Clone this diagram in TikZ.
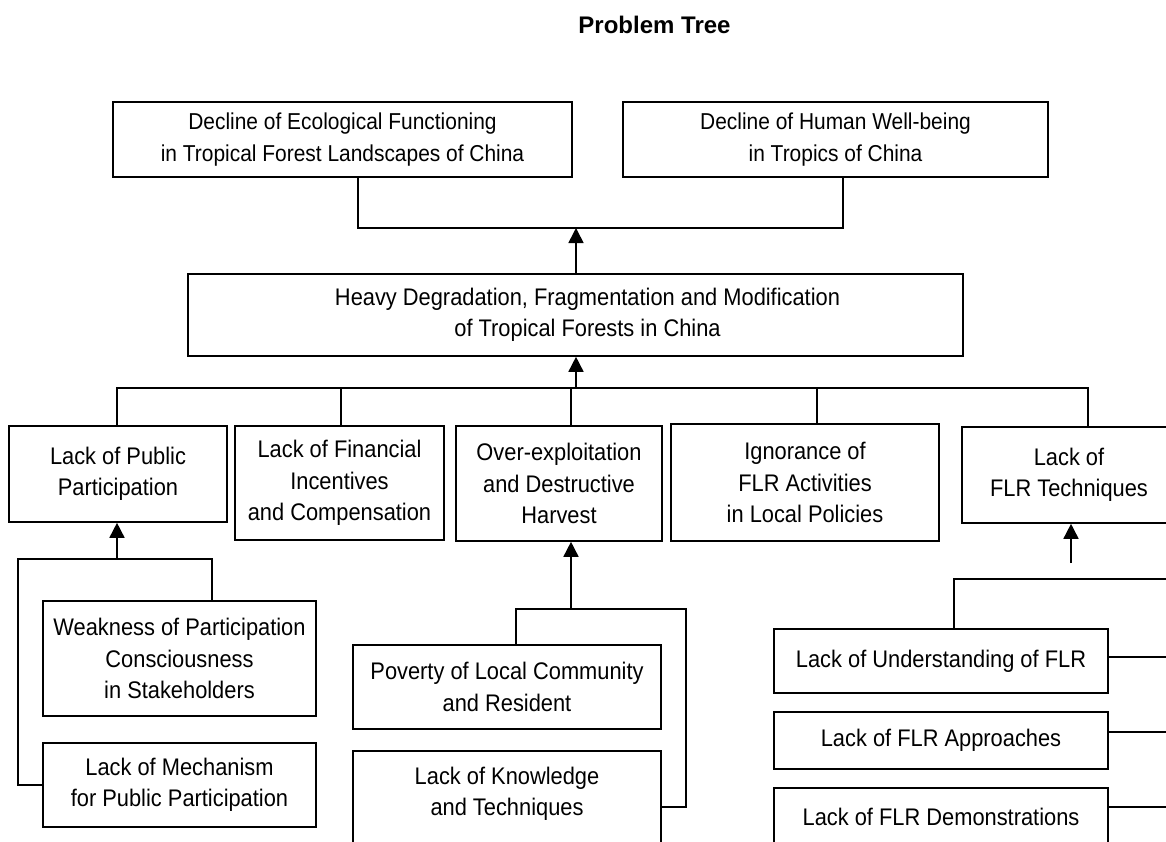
\documentclass[tikz,border=0pt]{standalone}
\usepackage{fontspec}
\setmainfont{Liberation Sans}
\newfontfamily\boxfont{Liberation Sans}[FakeStretch=0.91]
\usetikzlibrary{arrows.meta}
\begin{document}
\begin{tikzpicture}[x=1pt,y=-1pt,
  box/.style={draw, line width=1.6pt, inner sep=0pt, align=center, font=\boxfont\fontsize{24}{31.5}\selectfont},
  topbox/.style={box, font=\boxfont\fontsize{23}{31.5}\selectfont},
  txt/.style={inner sep=0pt, align=center, font=\boxfont\fontsize{24}{31.5}\selectfont},
  conn/.style={line width=1.6pt},
  arr/.style={conn, -{Triangle[length=15pt,width=15pt]}}]
\useasboundingbox (0,0) rectangle (1166,841);
\begin{scope}
\clip (0,0) rectangle (1166,841);
% title
\node[anchor=base, inner sep=0pt, font=\bfseries\fontsize{24}{28}\selectfont] (title) at (654.5,33) {Problem Tree};
% top level
\node[topbox, minimum width=459pt, minimum height=75pt] (top1) at (342.5,139.5) {Decline of Ecological Functioning\\in Tropical Forest Landscapes of China};
\node[topbox, minimum width=425pt, minimum height=75pt] (top2) at (835.5,139.5) {Decline of Human Well-being\\in Tropics of China};
% core problem
\node[box, minimum width=775pt, minimum height=82pt] (heavy) at (575.5,315) {\hspace*{24pt}Heavy Degradation, Fragmentation and Modification\\\hspace*{24pt}of Tropical Forests in China};
% causes
\node[box, minimum width=218pt, minimum height=96pt] (pub) at (118,474) {Lack of Public\\Participation};
\node[box, minimum width=209pt, minimum height=114pt] (fin) at (339.5,483) {Lack of Financial\\Incentives\\and Compensation};
\node[box, minimum width=206pt, minimum height=115pt] (over) at (559,483.5) {Over-exploitation\\and Destructive\\Harvest};
\node[box, minimum width=268pt, minimum height=117pt] (ign) at (805,482.5) {Ignorance of\\FLR Activities\\in Local Policies};
\node[box, minimum width=214pt, minimum height=96pt] (flr) at (1069,475) {Lack of\\FLR Techniques};
% sub-causes
\node[box, minimum width=273pt, minimum height=115pt] (weak) at (179.5,658.5) {Weakness of Participation\\Consciousness\\in Stakeholders};
\node[box, minimum width=273pt, minimum height=84pt] (mech) at (179.5,785) {Lack of Mechanism\\for Public Participation};
\node[box, minimum width=308pt, minimum height=84pt] (pov) at (507,687) {Poverty of Local Community\\and Resident};
\node[box, minimum width=308pt, minimum height=120pt, anchor=north] (know) at (507,750) {};
\node[txt] (knowtxt) at (507,794) {Lack of Knowledge\\and Techniques};
\node[box, minimum width=334pt, minimum height=64pt] (und) at (941,661) {Lack of Understanding of FLR};
\node[box, minimum width=334pt, minimum height=57pt] (appr) at (941,740.5) {Lack of FLR Approaches};
\node[box, minimum width=334pt, minimum height=58pt] (demo) at (941,817) {Lack of FLR Demonstrations};
% junction coordinates
\coordinate (j1) at (576,228);
\coordinate (j2) at (576,388);
\coordinate (j3) at (117,559);
\coordinate (j4) at (571,609);
\coordinate (j5) at (1071,563);
\coordinate (rE) at (1185,579);
% top connectors
\draw[conn] (top1.south -| 358,0) -- (358,228) -- (843,228) -- (top2.south -| 843,0);
\draw[arr] (heavy.north -| j1) -- (j1);
% causes bar
\draw[arr] (j2) -- (heavy.south -| j2);
\draw[conn] (pub.north -| 117,0) -- (117,388) -- (1088,388) -- (flr.north -| 1088,0);
\draw[conn] (fin.north -| 341,0) -- (341,388);
\draw[conn] (over.north -| 571,0) -- (571,388);
\draw[conn] (ign.north -| 817,0) -- (817,388);
% public participation branch
\draw[conn] (weak.north -| 212,0) |- (18,559) |- (mech.west);
\draw[arr] (j3) -- (pub.south -| j3);
% over-exploitation branch
\draw[conn] (pov.north -| 516,0) |- (686,609) |- (know.east |- 0,807);
\draw[arr] (j4) -- (over.south -| j4);
% FLR branch
\draw[conn] (und.north -| 954,0) |- (rE);
\draw[arr] (j5) -- (flr.south -| j5);
\draw[conn] (und.east |- 0,657) -- (1185,657);
\draw[conn] (appr.east |- 0,732) -- (1185,732);
\draw[conn] (demo.east |- 0,807) -- (1185,807);
\end{scope}
\end{tikzpicture}
\end{document}
